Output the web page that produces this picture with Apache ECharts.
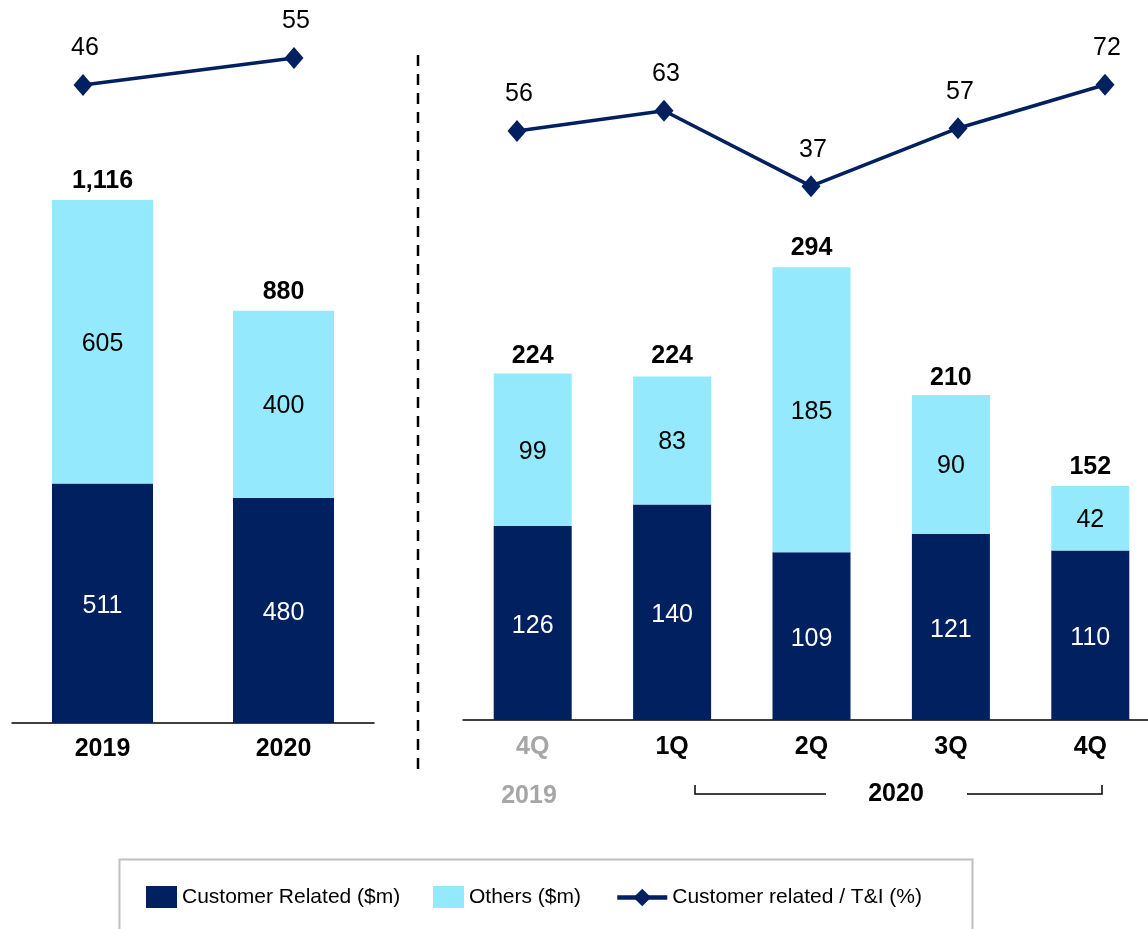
<!DOCTYPE html>
<html>
<head>
<meta charset="utf-8">
<script src="https://cdn.jsdelivr.net/npm/echarts@6/dist/echarts.min.js"></script>
<style>
  html, body { margin: 0; padding: 0; background: #fff; }
  #main { width: 1148px; height: 929px; }
</style>
</head>
<body>
<div id="main"></div>
<script>
// annual panel
const yearCats = ['2019', '2020']
const yearCustomer = [511, 480]
const yearOthers = [605, 400]
const yearTotals = [1116, 880]
const yearRatio = [46, 55]

// quarterly panel
const quarterCats = ['4Q', '1Q', '2Q', '3Q', '4Q']
const quarterCustomer = [126, 140, 109, 121, 110]
const quarterOthers = [99, 83, 185, 90, 42]
const quarterTotals = [224, 224, 294, 210, 152]
const quarterRatio = [56, 63, 37, 57, 72]

const navy = '#00205F'
const cyan = '#94E9FD'
const grey = '#A6A6A6'
const font = 'Liberation Sans, Arial, sans-serif'

const chart = echarts.init(document.getElementById('main'))

function barPair(xi, yi, custData, othData, width) {
  return [
    {
      name: 'Customer Related ($m)',
      type: 'bar',
      stack: 's' + xi,
      xAxisIndex: xi,
      yAxisIndex: yi,
      barWidth: width,
      data: custData,
      itemStyle: { color: navy },
      label: { show: true, position: 'inside', offset: [0, 3], color: '#fff', fontSize: 25, fontFamily: font },
    },
    {
      name: 'Others ($m)',
      type: 'bar',
      stack: 's' + xi,
      xAxisIndex: xi,
      yAxisIndex: yi,
      barWidth: width,
      data: othData,
      itemStyle: { color: cyan },
      label: { show: true, position: 'inside', offset: [0, 2], color: '#000', fontSize: 25, fontFamily: font },
    },
  ]
}

// invisible points at the stack totals, only to carry the bold total labels
function totalSeries(xi, yi, data) {
  return {
    name: 'total' + xi,
    type: 'scatter',
    xAxisIndex: xi,
    yAxisIndex: yi,
    symbolSize: 0.5,
    itemStyle: { color: cyan },
    data: data,
    label: {
      show: true,
      position: 'top',
      distance: 6,
      color: '#000',
      opacity: 1,
      fontSize: 25,
      fontWeight: 'bold',
      fontFamily: font,
      formatter: (p) => p.value.toLocaleString('en-US'),
    },
    z: 5,
  }
}

function ratioSeries(xi, yi, data) {
  return {
    name: 'Customer related / T&I (%)',
    type: 'line',
    xAxisIndex: xi,
    yAxisIndex: yi,
    data: data,
    symbol: 'diamond',
    symbolSize: [19, 22],
    itemStyle: { color: navy },
    lineStyle: { color: navy, width: 3.6 },
    label: { show: true, position: 'top', distance: 13, offset: [2, 0], color: '#000', fontSize: 25, fontFamily: font },
    z: 6,
  }
}

const xAxisBase = {
  type: 'category',
  axisTick: { show: false },
  axisLine: { lineStyle: { color: '#000', width: 1.5 } },
  axisLabel: { color: '#000', fontSize: 25, fontWeight: 'bold', fontFamily: font, margin: 14 },
}

// hidden category axes that place the ratio lines
const lineAxisBase = { type: 'category', boundaryGap: false, show: false }

const legendText = { color: '#000', fontSize: 21, fontFamily: font }

const option = {
  animation: false,
  backgroundColor: '#fff',
  textStyle: { fontFamily: font },
  grid: [
    { left: 12, top: 0, width: 362, height: 723, outerBoundsMode: 'none' },
    { left: 463, top: 0, width: 697, height: 720, outerBoundsMode: 'none' },
    { left: 83, top: 0, width: 211, height: 723, outerBoundsMode: 'none' },
    { left: 517, top: 0, width: 588, height: 720, outerBoundsMode: 'none' },
  ],
  xAxis: [
    Object.assign({}, xAxisBase, { gridIndex: 0, data: yearCats }),
    Object.assign({}, xAxisBase, {
      gridIndex: 1,
      data: quarterCats.map((c, i) => i === 0 ? { value: c, textStyle: { color: grey } } : c),
      axisLabel: Object.assign({}, xAxisBase.axisLabel, { margin: 15 }),
    }),
    Object.assign({}, lineAxisBase, { gridIndex: 2, data: yearCats }),
    Object.assign({}, lineAxisBase, { gridIndex: 3, data: quarterCats }),
  ],
  yAxis: [
    { gridIndex: 0, type: 'value', min: 0, max: 1543, show: false },
    { gridIndex: 1, type: 'value', min: 0, max: 467.5, show: false },
    { gridIndex: 2, type: 'value', min: -166.67, max: 74.33, show: false },
    { gridIndex: 3, type: 'value', min: -147.1, max: 101.2, show: false },
  ],
  legend: [
    {
      data: [{ name: 'Customer Related ($m)', icon: 'rect' }], left: 141, top: 881,
      itemWidth: 31, itemHeight: 22, textStyle: legendText, selectedMode: false,
    },
    {
      data: [{ name: 'Others ($m)', icon: 'rect' }], left: 428, top: 881,
      itemWidth: 31, itemHeight: 22, textStyle: legendText, selectedMode: false,
    },
    {
      data: ['Customer related / T&I (%)'], left: 610, top: 882,
      itemWidth: 50, itemHeight: 22, textStyle: legendText, selectedMode: false,
      lineStyle: { width: 4.5, color: navy },
    },
  ],
  graphic: [
    // legend frame
    {
      type: 'rect', left: 117, top: 857, silent: true,
      shape: { width: 853, height: 100 },
      style: { fill: 'none', stroke: '#BFBFBF', lineWidth: 2 },
    },
    // panel divider
    {
      type: 'line', silent: true,
      shape: { x1: 418, y1: 55, x2: 418, y2: 776 },
      style: { stroke: '#000', lineWidth: 2.5, lineDash: [11, 8] },
    },
    // 2019 under 4Q
    {
      type: 'text', silent: true,
      style: { text: '2019', x: 529, y: 796, fill: grey, font: 'bold 25px ' + font, textAlign: 'center', textVerticalAlign: 'middle' },
    },
    // 2020 bracket
    {
      type: 'polyline', silent: true,
      shape: { points: [[695, 785], [695, 794], [826, 794]] },
      style: { stroke: '#000', lineWidth: 1.5, fill: 'none' },
    },
    {
      type: 'polyline', silent: true,
      shape: { points: [[967, 794], [1102, 794], [1102, 785]] },
      style: { stroke: '#000', lineWidth: 1.5, fill: 'none' },
    },
    {
      type: 'text', silent: true,
      style: { text: '2020', x: 896, y: 794, fill: '#000', font: 'bold 25px ' + font, textAlign: 'center', textVerticalAlign: 'middle' },
    },
  ],
  series: [
    ...barPair(0, 0, yearCustomer, yearOthers, 101),
    totalSeries(0, 0, yearTotals),
    ratioSeries(2, 2, yearRatio),
    ...barPair(1, 1, quarterCustomer, quarterOthers, 78),
    totalSeries(1, 1, quarterTotals),
    ratioSeries(3, 3, quarterRatio),
  ],
}

chart.setOption(option)
</script>
</body>
</html>
